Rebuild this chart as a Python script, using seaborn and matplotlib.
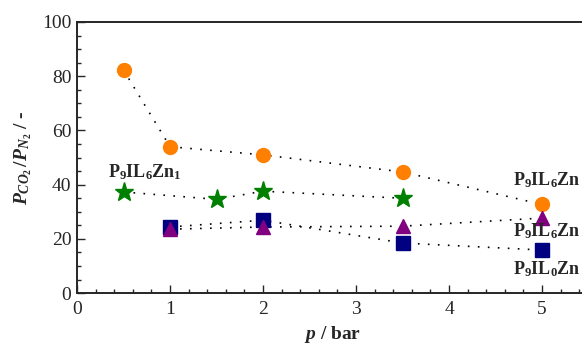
import matplotlib
matplotlib.use("Agg")
import matplotlib.pyplot as plt
import seaborn as sns
from matplotlib.ticker import MultipleLocator

# values
p_circle = [0.5, 1.0, 2.0, 3.5, 5.0]
sel_circle = [82.3, 54.0, 51.0, 44.7, 32.7]

p_star = [0.5, 1.5, 2.0, 3.5]
sel_star = [37.3, 34.6, 37.6, 35.0]

p_square = [1.0, 2.0, 3.5, 5.0]
sel_square = [24.4, 26.9, 18.5, 15.9]

p_triangle = [1.0, 2.0, 3.5, 5.0]
sel_triangle = [23.6, 24.4, 24.7, 27.7]

# right-hand labels are cut at the frame edge in the original, keep what shows
labels = [r"$\mathbf{P_9IL_6Zn_1}$", r"$\mathbf{P_9IL_6Zn}$",
          r"$\mathbf{P_9IL_6Zn}$", r"$\mathbf{P_9IL_0Zn}$"]
label_x = [0.33, 4.69, 4.69, 4.69]
label_y = [44.5, 41.5, 23.0, 8.7]

sns.set_style("ticks")
plt.rcParams["font.family"] = ["Liberation Serif", "DejaVu Serif"]
plt.rcParams["mathtext.fontset"] = "custom"
plt.rcParams["mathtext.rm"] = "Liberation Serif:bold"
plt.rcParams["mathtext.bf"] = "Liberation Serif:bold"
plt.rcParams["mathtext.it"] = "Liberation Serif:italic:bold"

fig = plt.figure(figsize=(5.82, 3.49), dpi=100)
ax = fig.add_axes([0.1323, 0.160, 0.879, 0.777])

series = [
    (p_circle, sel_circle, "o", "#FF8000", 10),
    (p_star, sel_star, "*", "#008000", 14),
    (p_square, sel_square, "s", "#000080", 10.5),
    (p_triangle, sel_triangle, "^", "#800080", 10),
]
for xs, ys, mk, col, ms in series:
    sns.lineplot(x=xs, y=ys, ax=ax, sort=False, color="black",
                 linestyle=(0, (1, 5)), linewidth=1.2, zorder=2)
    ax.plot(xs, ys, linestyle="none", marker=mk, markersize=ms,
            color=col, markeredgecolor=col, zorder=3)

for txt, tx, ty in zip(labels, label_x, label_y):
    ax.text(tx, ty, txt, fontsize=13, ha="left", va="center", clip_on=False)

ax.set_xlim(0, 5.5)
ax.set_ylim(0, 100)
ax.xaxis.set_major_locator(MultipleLocator(1))
ax.xaxis.set_minor_locator(MultipleLocator(0.2))
ax.yaxis.set_major_locator(MultipleLocator(20))
ax.yaxis.set_minor_locator(MultipleLocator(5))
ax.tick_params(which="both", direction="in", top=False, right=False,
               labelsize=14, width=1.0)
ax.tick_params(which="major", length=6)
ax.tick_params(axis="y", which="major", pad=4)
ax.tick_params(axis="x", which="major", pad=6)
ax.tick_params(which="minor", length=3)
for s in ax.spines.values():
    s.set_linewidth(1.4)
    s.set_visible(True)

ax.set_xlabel(r"$p$ / bar", fontsize=14, fontweight="bold", labelpad=4)
ax.set_ylabel(r"$P_{CO_2}\,/P_{N_2}$ / -", fontsize=14, fontweight="bold", labelpad=6)

fig.savefig("out.png", dpi=100)
